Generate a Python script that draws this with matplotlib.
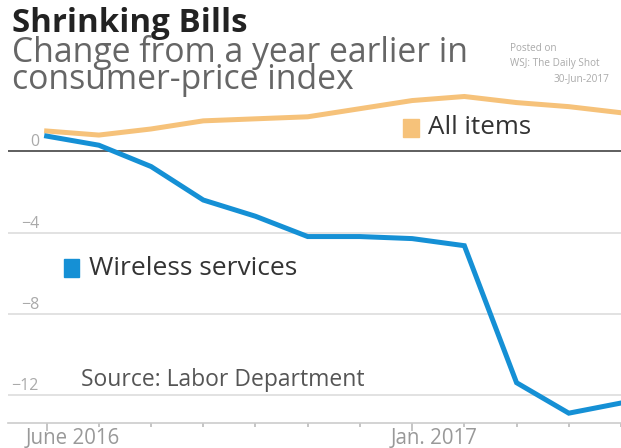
import matplotlib
matplotlib.use("Agg")
import matplotlib.pyplot as plt
from matplotlib.patches import Rectangle

plt.rcParams['font.family'] = ['Open Sans', 'DejaVu Sans']

months = ["June 2016", "July", "Aug.", "Sept.", "Oct.", "Nov.", "Dec.",
          "Jan. 2017", "Feb.", "March", "April", "May"]
all_items = [1.0, 0.8, 1.1, 1.5, 1.6, 1.7, 2.1, 2.5, 2.7, 2.4, 2.2, 1.9]
wireless = [0.75, 0.3, -0.75, -2.4, -3.2, -4.2, -4.2, -4.3, -4.65, -11.4, -12.9, -12.4]
yticks = [0, -4, -8, -12]
ytick_labels = ["0", "\u22124", "\u22128", "\u221212"]
xlabel_idx = [0, 7]
xlabel_text = ["June 2016", "Jan. 2017"]

W, H = 621, 448
fig = plt.figure(figsize=(W / 100, H / 100), dpi=100)

def fx(x):
    return x / W

def fy(y):
    return 1 - y / H

# axes geometry (pixels)
ax_left, ax_right, ax_top, ax_bot = 8, 621, 90, 423
ax = fig.add_axes([fx(ax_left), fy(ax_bot), fx(ax_right - ax_left), (ax_bot - ax_top) / H])
y0 = 151.3
ppu = 20.3
ax.set_ylim(-(ax_bot - y0) / ppu, (y0 - ax_top) / ppu)
x0 = 46.7
ppm = 52.3
ax.set_xlim((ax_left - x0) / ppm, (ax_right - x0) / ppm)

orange = "#F6C27A"
blue = "#1590D5"

for v in yticks[1:]:
    ax.axhline(v, color="#dddddd", lw=1.2, zorder=1)
ax.axhline(0, color="#333333", lw=1.1, zorder=2)

xs = list(range(len(months)))
ax.plot(xs, all_items, color=orange, lw=3.6, solid_joinstyle="miter", zorder=3)
ax.plot(xs, wireless, color=blue, lw=3.6, solid_joinstyle="miter", zorder=4)

for s in ["top", "right", "left"]:
    ax.spines[s].set_visible(False)
ax.spines["bottom"].set_color("#cccccc")
ax.spines["bottom"].set_linewidth(1.2)
ax.set_yticks([])
ax.set_xticks(xlabel_idx)
ax.set_xticks([i for i in xs if i not in xlabel_idx], minor=True)
ax.tick_params(axis="x", which="major", length=6, width=1.2, color="#bbbbbb", labelbottom=False)
ax.tick_params(axis="x", which="minor", length=3, width=1.2, color="#bbbbbb")

# y tick labels (above gridlines, right aligned)
lab_x = (39 - x0) / ppm
for v, t in zip(yticks, ytick_labels):
    ax.text(lab_x, v + 5 / ppu, t, ha="right", va="baseline", fontsize=11.5,
            color="#aaaaaa", zorder=5)

# x labels
for i, t in zip(xlabel_idx, xlabel_text):
    ax.text(i - 21 / ppm, -(444 - y0) / ppu, t, ha="left", va="baseline",
            fontsize=14.8, color="#999999", clip_on=False)

# legends
fig.patches.append(Rectangle((fx(403), fy(137)), fx(16), 18 / H, transform=fig.transFigure,
                             color=orange, zorder=10))
fig.text(fx(428), fy(134), "All items", fontsize=18.7, color="#333333", va="baseline")
fig.patches.append(Rectangle((fx(64), fy(277)), fx(15), 18 / H, transform=fig.transFigure,
                             color=blue, zorder=10))
fig.text(fx(89), fy(275), "Wireless services", fontsize=19, color="#333333", va="baseline")

fig.text(fx(81), fy(386), "Source: Labor Department", fontsize=16.5, color="#555555",
         va="baseline")

# titles
fig.text(fx(12), fy(32), "Shrinking Bills", fontsize=23.8, fontweight="bold",
         color="#222222", va="baseline")
fig.text(fx(12), fy(62.5), "Change from a year earlier in", fontsize=24.3,
         color="#666666", va="baseline")
fig.text(fx(12), fy(89), "consumer-price index", fontsize=24.3,
         color="#666666", va="baseline")

fig.text(fx(510), fy(51), "Posted on", fontsize=7.2, color="#aaaaaa", va="baseline")
fig.text(fx(510), fy(66), "WSJ: The Daily Shot", fontsize=7.2, color="#aaaaaa", va="baseline")
fig.text(fx(609), fy(81), "30-Jun-2017", fontsize=7.2, color="#aaaaaa", va="baseline", ha="right")

fig.savefig("out.png", dpi=100)
